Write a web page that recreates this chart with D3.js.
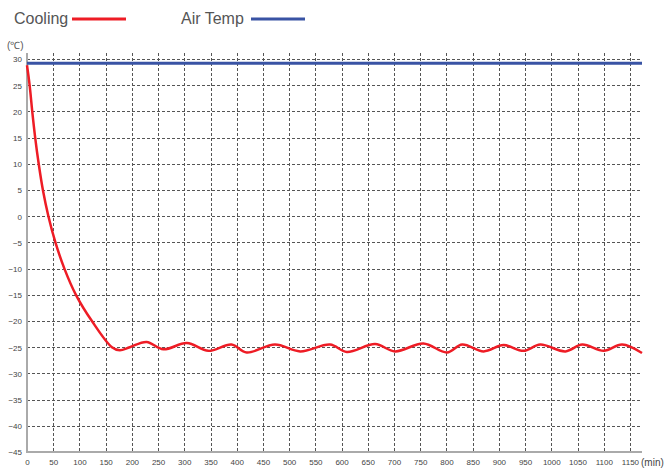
<!DOCTYPE html>
<html>
<head>
<meta charset="utf-8">
<script src="https://cdn.jsdelivr.net/npm/d3@7"></script>
<style>
  body { margin: 0; background: #fff; }
  text { font-family: "Liberation Sans", Arial, sans-serif; }
</style>
</head>
<body>
<div id="chart"></div>
<script>
// Data
var coolTime = [0, 5, 10, 15.6, 22.3, 30.3, 40.8, 54.2, 71.3, 93.3, 123.8, 162, 177, 196, 228, 260, 305, 346, 390, 419,
    473, 521, 578, 610, 664, 702, 756, 801, 830, 871, 909, 947, 979, 1027, 1059, 1100, 1135, 1173];
var coolTemp = [28.8, 25, 20, 15, 10, 5, 0, -5, -10, -15, -20, -25, -25.6, -25.0, -24.0, -25.4, -24.2, -25.7, -24.5, -26.0,
    -24.5, -25.8, -24.5, -25.9, -24.4, -25.8, -24.3, -26.0, -24.5, -25.8, -24.6, -25.7, -24.5, -25.8, -24.5, -25.7, -24.5, -26.1];
var airTime = [0, 1173];
var airTemp = [29.2, 29.2];

var yTicks = [30, 25, 20, 15, 10, 5, 0, -5, -10, -15, -20, -25, -30, -35, -40, -45];
var xTicks = d3.range(0, 1200, 50);

// Dimensions
var svgWidth = 666;
var svgHeight = 468;
var plot = { left: 27, right: 642, top: 59, bottom: 452 };

var svg = d3.select("#chart")
    .append("svg")
    .attr("width", svgWidth)
    .attr("height", svgHeight);

var xScale = d3.scaleLinear().domain([0, 1173]).range([plot.left, plot.right]);
var yScale = d3.scaleLinear().domain([-45, 30]).range([plot.bottom, plot.top]);

// Horizontal grid
svg.append("g")
    .selectAll("line")
    .data(yTicks.filter(d => d > -45))
    .enter()
    .append("line")
    .attr("x1", plot.left)
    .attr("x2", plot.right)
    .attr("y1", d => Math.round(yScale(d)) + 0.5)
    .attr("y2", d => Math.round(yScale(d)) + 0.5)
    .attr("stroke", "#555")
    .attr("stroke-width", 1)
    .attr("stroke-dasharray", "3,2");

// Vertical grid
svg.append("g")
    .selectAll("line")
    .data(xTicks.filter(d => d > 0))
    .enter()
    .append("line")
    .attr("x1", d => Math.round(xScale(d)) + 0.5)
    .attr("x2", d => Math.round(xScale(d)) + 0.5)
    .attr("y1", 53)
    .attr("y2", plot.bottom)
    .attr("stroke", "#555")
    .attr("stroke-width", 1)
    .attr("stroke-dasharray", "3,2");

// Axes
var yAxis = d3.axisLeft(yScale).tickValues(yTicks).tickSize(0).tickPadding(5).tickFormat(d3.format("d"));
var xAxis = d3.axisBottom(xScale).tickValues(xTicks).tickSize(0).tickPadding(7).tickFormat(d3.format("d"));

var yG = svg.append("g")
    .attr("transform", `translate(${plot.left}, 0)`)
    .call(yAxis);
var xG = svg.append("g")
    .attr("transform", `translate(0, ${plot.bottom})`)
    .call(xAxis);

[yG, xG].forEach(function (g) {
    g.select(".domain").remove();
    g.selectAll("text")
        .style("font-family", "'Liberation Sans Narrow', 'Liberation Sans', Arial, sans-serif")
        .style("font-size", "8px")
        .attr("fill", "#444");
});
yG.selectAll("text").attr("dy", "0.35em");

// Axis lines
svg.append("line")
    .attr("x1", plot.left).attr("x2", plot.left)
    .attr("y1", 53).attr("y2", plot.bottom + 1)
    .attr("stroke", "#aaa")
    .attr("stroke-width", 2);
svg.append("line")
    .attr("x1", plot.left).attr("x2", plot.right)
    .attr("y1", plot.bottom).attr("y2", plot.bottom)
    .attr("stroke", "#aaa")
    .attr("stroke-width", 2);

// Unit labels
svg.append("text")
    .attr("x", 7).attr("y", 49)
    .style("font-size", "10px")
    .attr("fill", "#555")
    .text("(℃)");
svg.append("text")
    .attr("x", 641).attr("y", 466)
    .style("font-size", "10px")
    .attr("fill", "#444")
    .text("(min)");

// Lines
var line = d3.line()
    .x(d => xScale(d[0]))
    .y(d => yScale(d[1]))
    .curve(d3.curveCatmullRom.alpha(0.5));

svg.append("path")
    .datum(d3.zip(airTime, airTemp))
    .attr("d", line)
    .attr("fill", "none")
    .attr("stroke", "#3953a4")
    .attr("stroke-width", 3);

svg.append("path")
    .datum(d3.zip(coolTime, coolTemp))
    .attr("d", line)
    .attr("fill", "none")
    .attr("stroke", "#ee1c25")
    .attr("stroke-width", 2.5);

// Legend
var legend = [
    { name: "Cooling", color: "#ee1c25", x: 14, lx: 72 },
    { name: "Air Temp", color: "#3953a4", x: 181, lx: 251 }
];
legend.forEach(function (d) {
    svg.append("text")
        .attr("x", d.x).attr("y", 24)
        .style("font-size", "16px")
        .attr("fill", "#555")
        .text(d.name);
    svg.append("line")
        .attr("x1", d.lx).attr("x2", d.lx + 54)
        .attr("y1", 19).attr("y2", 19)
        .attr("stroke", d.color)
        .attr("stroke-width", 3);
});
</script>
</body>
</html>
